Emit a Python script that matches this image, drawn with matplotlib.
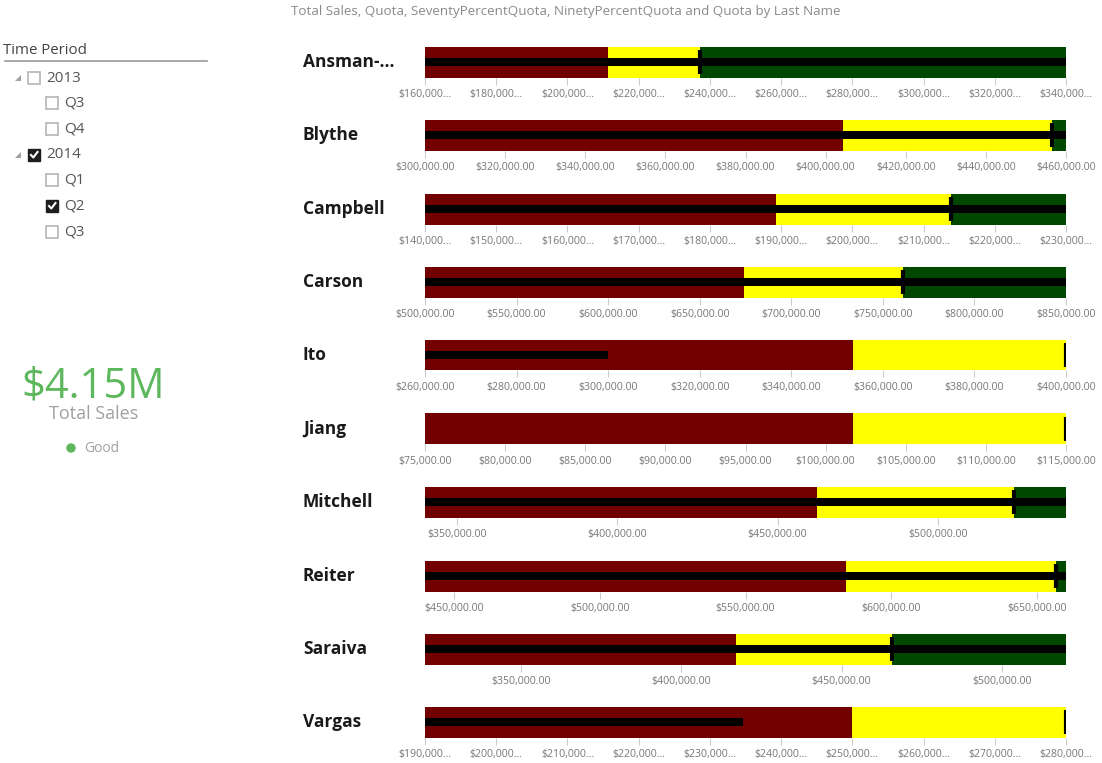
import numpy as np
import matplotlib
matplotlib.use("Agg")
import matplotlib.pyplot as plt
from matplotlib.patches import Rectangle, Circle, Polygon

plt.rcParams['font.family'] = ['Open Sans', 'DejaVu Sans']

W, H = 1102, 763

names = ["Ansman-...", "Blythe", "Campbell", "Carson", "Ito", "Jiang",
         "Mitchell", "Reiter", "Saraiva", "Vargas"]
axis_min = [160000, 300000, 140000, 500000, 260000, 75000, 340000, 440000, 320000, 190000]
axis_max = [340000, 460000, 230000, 850000, 400000, 115000, 540000, 660000, 520000, 280000]
ninety_quota = [211400, 404400, 189300, 674200, 353400, 101700, 462300, 584400, 416900, 250000]
quota = [237200, 456600, 213900, 761000, 400000, 115000, 523700, 656600, 465700, 280000]
total_sales = [340000, 460000, 230000, 850000, 300000, 72000, 540000, 660000, 520000, 234600]
tick_step = [20000, 20000, 10000, 50000, 20000, 5000, 50000, 50000, 50000, 10000]
truncated = [True, False, True, False, False, False, False, False, False, True]

slicer_items = ["2013", "Q3", "Q4", "2014", "Q1", "Q2", "Q3"]
slicer_level = [0, 1, 1, 0, 1, 1, 1]
slicer_checked = [False, False, False, True, False, True, False]

RED = "#720000"
YELLOW = "#FFFF00"
GREEN = "#004800"
CARD_GREEN = "#5DB75D"

row_y = [62, 135, 209, 282, 355, 429, 502, 576, 649, 722]
bar_h = 31

fig = plt.figure(figsize=(W / 100, H / 100), dpi=100)

# pixel overlay for slicer / card / labels
ov = fig.add_axes([0, 0, 1, 1])
ov.set_xlim(0, W)
ov.set_ylim(H, 0)
ov.axis("off")

ov.text(566, 11, "Total Sales, Quota, SeventyPercentQuota, NinetyPercentQuota and Quota by Last Name",
        ha="center", va="center", fontsize=9.6, color="#8a8a8a")

# slicer
ov.text(3, 50, "Time Period", ha="left", va="center", fontsize=10.8, color="#444444")
ov.plot([5, 207], [61, 61], color="#999999", lw=1.2)
slicer_y = [78, 103, 129, 155, 180, 206, 232]
for label, lvl, chk, y in zip(slicer_items, slicer_level, slicer_checked, slicer_y):
    bx = 28 if lvl == 0 else 46
    if lvl == 0:
        ov.add_patch(Polygon([[15, y + 3], [21, y + 3], [21, y - 3]], closed=True,
                             color="#a0a0a0", lw=0))
    if chk:
        ov.add_patch(Rectangle((bx, y - 6), 12, 12, facecolor="#1e1e1e", edgecolor="#1e1e1e", lw=1))
        ov.plot([bx + 3, bx + 5.3, bx + 9.5], [y, y + 2.5, y - 3], color="white", lw=1.5)
    else:
        ov.add_patch(Rectangle((bx, y - 6), 12, 12, facecolor="white", edgecolor="#b5b5b5", lw=1.2))
    ov.text(bx + 18, y, label, ha="left", va="center", fontsize=11, color="#555555")

# card
ov.text(93, 386, "$4.15M", ha="center", va="center", fontsize=30, color=CARD_GREEN)
ov.text(94, 414, "Total Sales", ha="center", va="center", fontsize=13, color="#a0a0a0")
ov.add_patch(Circle((71, 448), 4, color=CARD_GREEN))
ov.text(84, 448, "Good", ha="left", va="center", fontsize=10, color="#a0a0a0")


def fmt(v, trunc):
    s = "${:,.2f}".format(v)
    return s[:-3] + "..." if trunc else s


for i, name in enumerate(names):
    yc = row_y[i]
    lo, hi = axis_min[i], axis_max[i]
    ov.text(303, yc, name, ha="left", va="center", fontsize=12.5, fontweight="bold", color="#1a1a1a")

    ax = fig.add_axes([425 / W, 1 - (yc + bar_h / 2) / H, 641 / W, bar_h / H])
    ax.set_xlim(lo, hi)
    ax.set_ylim(-0.5, 0.5)
    ax.barh(0, ninety_quota[i] - lo, left=lo, height=1, color=RED)
    ax.barh(0, quota[i] - ninety_quota[i], left=ninety_quota[i], height=1, color=YELLOW)
    if hi > quota[i]:
        ax.barh(0, hi - quota[i], left=quota[i], height=1, color=GREEN)
    ax.barh(0, total_sales[i] - lo, left=lo, height=0.26, color="black")
    ax.plot([quota[i], quota[i]], [-0.4, 0.4], color="black", lw=3, solid_capstyle="butt")

    step = tick_step[i]
    ticks = np.arange(np.ceil(lo / step) * step, hi + 1, step)
    ax.set_xticks(ticks)
    ax.set_xticklabels([fmt(t, truncated[i]) for t in ticks])
    ax.tick_params(axis="x", length=5, width=0.8, color="#cccccc", labelsize=7.6,
                   labelcolor="#777777", pad=3.5)
    ax.set_yticks([])
    for sp in ax.spines.values():
        sp.set_visible(False)

fig.savefig("out.png", dpi=100)
